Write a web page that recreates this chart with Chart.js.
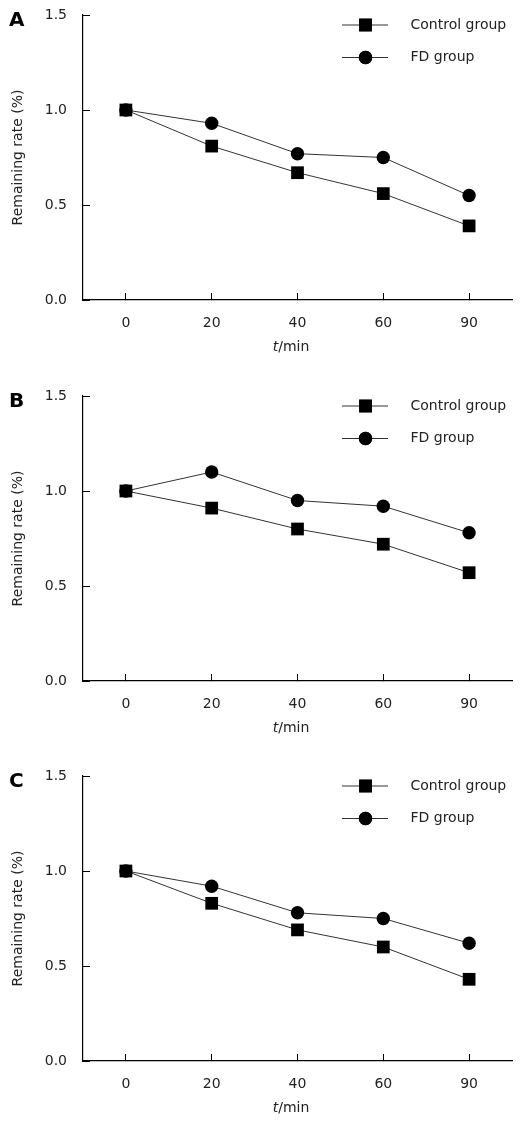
<!DOCTYPE html>
<html>
<head>
<meta charset="utf-8">
<script src="https://cdn.jsdelivr.net/npm/chart.js@4/dist/chart.umd.min.js"></script>
<style>
  html, body { margin: 0; padding: 0; background: #fff; }
  body { width: 522px; height: 1121px; position: relative; overflow: hidden; font-family: "DejaVu Sans", sans-serif; }
  .panel { position: absolute; left: 0; width: 522px; height: 360px; }
  .panel canvas { position: absolute; left: 0; top: 0; }
  .plabel { position: absolute; left: 9px; font: bold 20px "DejaVu Sans", sans-serif; color: #000; line-height: 20px; }
  .xtitle { position: absolute; left: 291px; transform: translateX(-50%); font: 14px "DejaVu Sans", sans-serif; color: #222; line-height: 16px; white-space: nowrap; }
</style>
</head>
<body>
<script>
// ---- data ----
const categories = ['0', '20', '40', '60', '90'];
const seriesNames = ['Control group', 'FD group'];
const panelLabels = ['A', 'B', 'C'];
const yTicks = [0, 0.5, 1.0, 1.5];

const controlA = [1.00, 0.81, 0.67, 0.56, 0.39];
const fdA      = [1.00, 0.93, 0.77, 0.75, 0.55];
const controlB = [1.00, 0.91, 0.80, 0.72, 0.57];
const fdB      = [1.00, 1.10, 0.95, 0.92, 0.78];
const controlC = [1.00, 0.83, 0.69, 0.60, 0.43];
const fdC      = [1.00, 0.92, 0.78, 0.75, 0.62];

const panels = [
  { label: panelLabels[0], control: controlA, fd: fdA, top: 0 },
  { label: panelLabels[1], control: controlB, fd: fdB, top: 381 },
  { label: panelLabels[2], control: controlC, fd: fdC, top: 761 }
];

const FONT = '"DejaVu Sans", sans-serif';
const TXT = '#222';
const LINE = '#333';

const legendPlugin = {
  id: 'customLegend',
  afterDatasetsDraw(chart) {
    const ctx = chart.ctx;
    const top = chart.chartArea.top;
    const rows = [top + 10, top + 42.5];
    chart.data.datasets.forEach((ds, i) => {
      const y = rows[i];
      ctx.save();
      ctx.strokeStyle = LINE;
      ctx.lineWidth = 1;
      ctx.beginPath();
      ctx.moveTo(342, y);
      ctx.lineTo(388, y);
      ctx.stroke();
      Chart.helpers.drawPoint(ctx, {
        pointStyle: ds.pointStyle,
        radius: ds.pointRadius,
        borderWidth: 0,
        rotation: 0
      }, 365.5, y);
      ctx.fillStyle = '#000';
      ctx.fill();
      ctx.fillStyle = TXT;
      ctx.font = '14px ' + FONT;
      ctx.textAlign = 'left';
      ctx.textBaseline = 'middle';
      ctx.fillText(ds.label, 410.5, y);
      ctx.restore();
    });
  }
};

panels.forEach((p) => {
  const wrap = document.createElement('div');
  wrap.className = 'panel';
  wrap.style.top = p.top + 'px';
  const canvas = document.createElement('canvas');
  wrap.appendChild(canvas);
  const lab = document.createElement('div');
  lab.className = 'plabel';
  lab.textContent = p.label;
  lab.style.top = '9px';
  wrap.appendChild(lab);
  const xt = document.createElement('div');
  xt.className = 'xtitle';
  xt.innerHTML = '<i>t</i>/min';
  xt.style.top = '338px';
  wrap.appendChild(xt);
  document.body.appendChild(wrap);

  new Chart(canvas, {
    type: 'line',
    data: {
      labels: categories,
      datasets: [
        {
          label: seriesNames[0],
          data: p.control,
          borderColor: LINE,
          borderWidth: 1,
          backgroundColor: '#000',
          pointStyle: 'rect',
          pointRadius: 9,
          pointBackgroundColor: '#000',
          pointBorderWidth: 0,
          fill: false,
          tension: 0
        },
        {
          label: seriesNames[1],
          data: p.fd,
          borderColor: LINE,
          borderWidth: 1,
          backgroundColor: '#000',
          pointStyle: 'circle',
          pointRadius: 6.7,
          pointBackgroundColor: '#000',
          pointBorderWidth: 0,
          fill: false,
          tension: 0
        }
      ]
    },
    options: {
      responsive: true,
      maintainAspectRatio: false,
      devicePixelRatio: 1,
      animation: false,
      layout: { padding: { top: 15, right: 10, left: 0, bottom: 0 } },
      plugins: { legend: { display: false }, tooltip: { enabled: false } },
      scales: {
        x: {
          type: 'category',
          offset: true,
          grid: { offset: false, drawOnChartArea: false, drawTicks: true, tickLength: -7, color: '#000', lineWidth: 1 },
          border: { display: true, color: '#000', width: 1.2 },
          ticks: { color: TXT, font: { family: FONT, size: 14 }, padding: 22, maxRotation: 0, autoSkip: false },
          afterFit(scale) { scale.height = 60; scale.paddingLeft = 0; scale.paddingRight = 0; }
        },
        y: {
          min: 0,
          max: 1.5,
          afterBuildTicks(scale) { scale.ticks = yTicks.map(v => ({ value: v })); },
          grid: { drawOnChartArea: false, drawTicks: true, tickLength: -7, color: '#000', lineWidth: 1 },
          border: { display: true, color: '#000', width: 1.2 },
          ticks: { color: TXT, font: { family: FONT, size: 14 }, padding: 23, callback: (v) => Number(v).toFixed(1) },
          title: { display: true, text: 'Remaining rate (%)', color: TXT, font: { family: FONT, size: 14 }, padding: { top: 10, bottom: 0 } },
          afterFit(scale) { scale.width = 83; scale.paddingTop = 0; scale.paddingBottom = 0; }
        }
      }
    },
    plugins: [legendPlugin]
  });
});
</script>
</body>
</html>
